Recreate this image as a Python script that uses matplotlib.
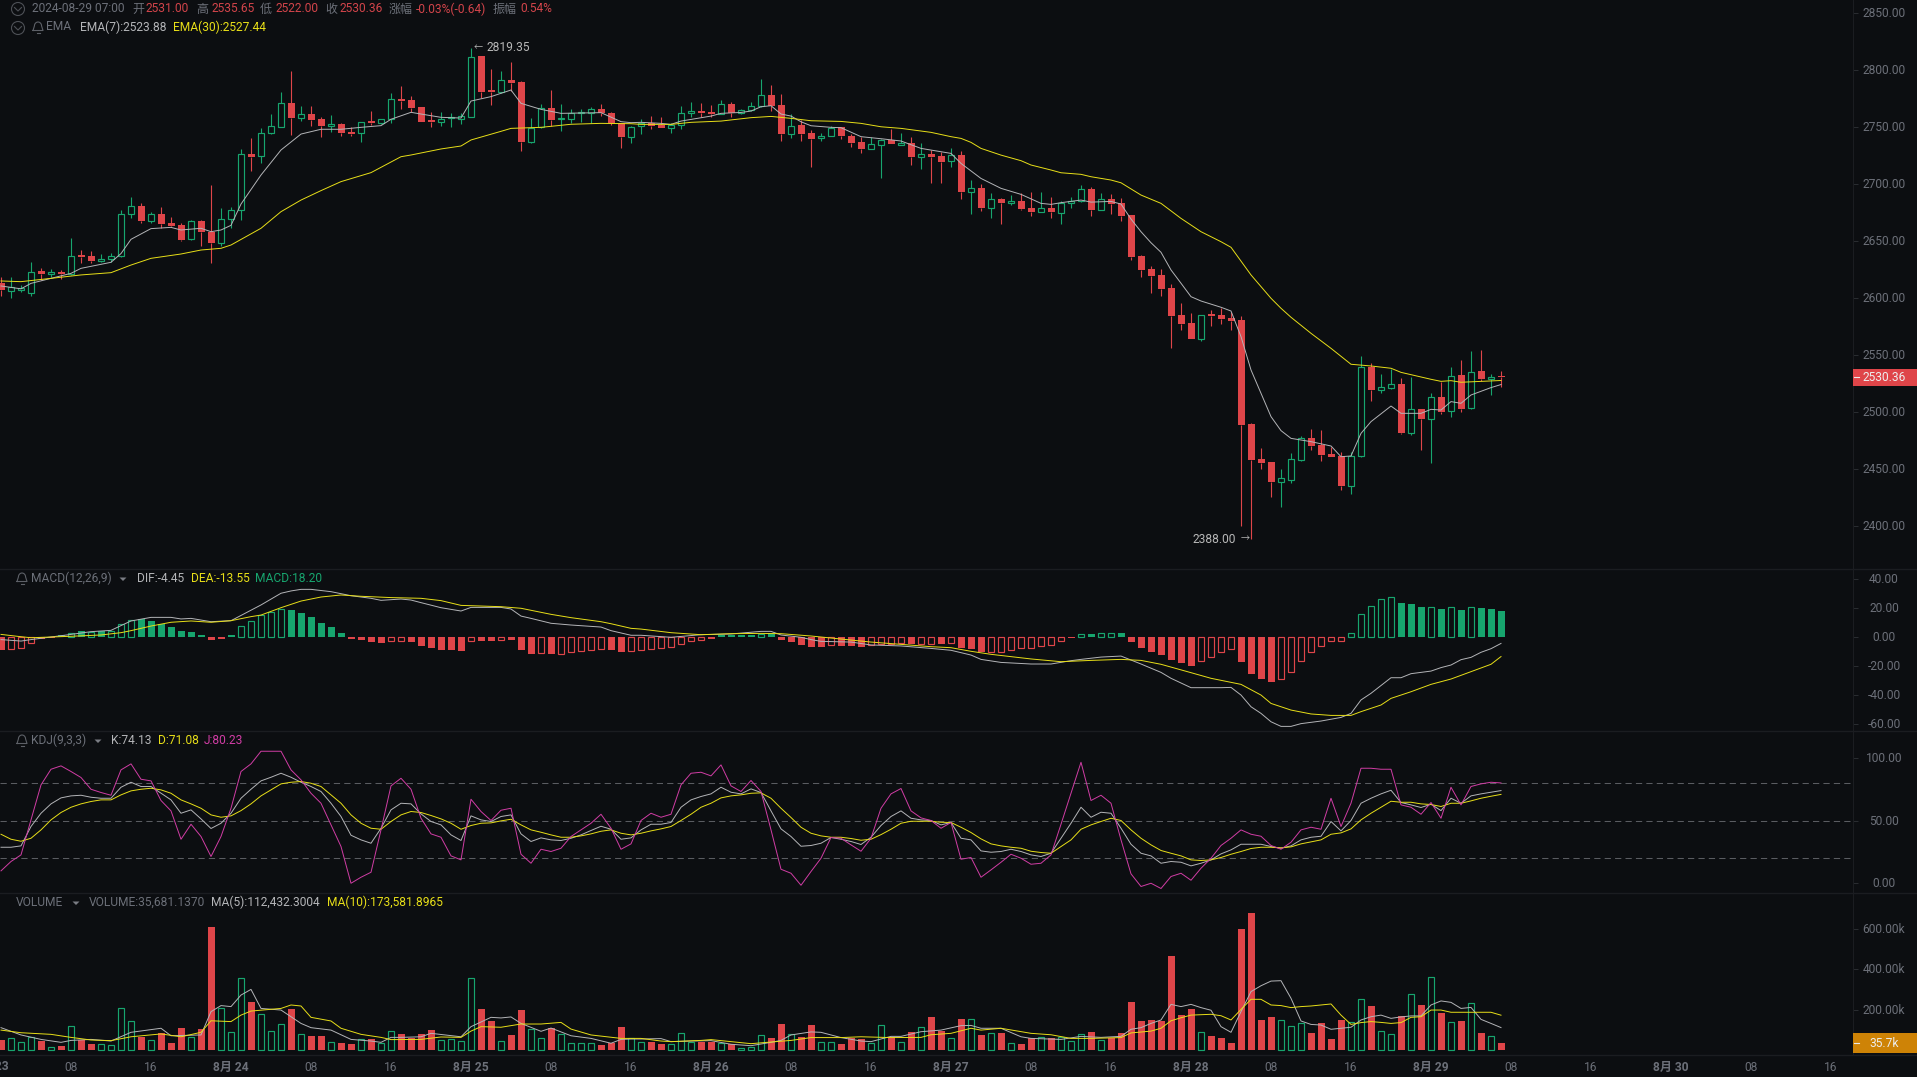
import numpy as np
import matplotlib
matplotlib.use('Agg')
import matplotlib.pyplot as plt
from matplotlib.patches import Circle, Polygon, Rectangle
from matplotlib.transforms import ScaledTranslation, blended_transform_factory

plt.rcParams['font.family'] = ['Roboto', 'Noto Sans CJK SC', 'DejaVu Sans']

# hourly candles, 08-23 01:00 to 08-29 07:00
opens = [2613,2606,2607,2604,2623.6,2621,2622.8,2621,2637.4,2636.8,2632.8,2634.2,2637.1,2673.5,2680.8,2667.9,2673.8,2665.6,2664.1,2651.5,2667.6,2658.2,2648,2669.1,2677,2726.2,2724.4,2744.6,2750.5,2771,2758.4,2761.6,2757.2,2751.1,2752.6,2745.8,2744.6,2755.2,2754,2757,2774.8,2773.9,2767.5,2756.4,2754.9,2757.8,2757.5,2759.3,2812.6,2782.4,2781.3,2791.5,2789.7,2737.3,2749.9,2766.9,2756.9,2757.2,2762.5,2762.8,2766,2762.8,2753.4,2741.7,
         2751,2754,2751.9,2749.6,2751.6,2762.2,2764.2,2763.3,2761.9,2770,2762.8,2764.8,2768.3,2778.3,2769.5,2744.3,2751.9,2744.9,2740.2,2742.5,2749.9,2742.2,2737,2731.1,2734.6,2738.4,2734.3,2735.8,2724.1,2726.1,2724.7,2720,2725.3,2693.3,2696.6,2679.3,2686.9,2683.7,2684.8,2679,2675.8,2679,2674.9,2683.4,2684.8,2695.7,2677.5,2686.9,2683.4,2672.8,2636.8,2625.4,2620.1,
         2608.5,2585,2578,2564.2,2585.9,2585,2582.4,2580.6,2489.2,2458.5,2455.9,2438.6,2440.3,2457.9,2476.9,2470.8,2462.9,2461.1,2435.1,2461.4,2539.3,2519.4,2521.2,2524.4,2481.6,2502.4,2493.9,2513,2500.4,2532.3,2503,2535.8,2529.1,2531]
highs = [2618,2618.7,2611,2631.3,2626,2625,2624.5,2653,2642,2641,2638.3,2639.8,2677.3,2689,2683.7,2675.8,2680.2,2671.4,2666.1,2668.5,2668.5,2699,2678.7,2679.6,2730.9,2740.2,2749.6,2761.9,2781.3,2799.4,2768.7,2768.7,2758.7,2760.5,2753.4,2749.9,2754.9,2764.3,2757.5,2779.8,2786.2,2777.4,2768,2763.1,2763.1,2762.8,2762.8,2819.35,2813,2800.9,2799.4,2807,2790.6,2757.8,2770.1,2782.7,2770.1,2765.7,2766.3,2767.5,2770.1,2763.7,2753.4,2751.1,
         2756.9,2760.1,2758.6,2753.4,2768.6,2772.1,2771,2769.8,2773.9,2771.8,2766,2772.4,2792,2787,2779.1,2761.3,2756.3,2747.5,2744.6,2751.3,2750.4,2743.7,2741.7,2741.7,2739.3,2748.1,2745.2,2741,2736.4,2730,2728.5,2731.4,2729.4,2703.6,2699.8,2691.9,2687.8,2690.4,2691.9,2693,2693,2688.9,2685.1,2688.4,2699.2,2697.1,2691.9,2691,2687.8,2672.8,2637.7,2628,2625.1,
         2612.3,2595.3,2586.5,2585,2589.4,2590.9,2587.9,2584.1,2490.4,2467.9,2456.1,2449.7,2463.5,2478.7,2484.6,2484,2469.3,2464.3,2464.3,2549.3,2543.2,2533.2,2537.6,2529.4,2530.3,2502.4,2516.8,2526.4,2539,2545.5,2553.4,2554.3,2533.5,2535.65]
lows = [2602,2600,2605,2602,2615.8,2618,2617,2620,2631,2630.4,2631.6,2631.9,2636.3,2670,2666,2666,2661.8,2662.6,2650.3,2650.9,2645.9,2631,2645.6,2661.8,2668.5,2711.5,2718.9,2744,2750.2,2743.2,2755.8,2751.1,2741.7,2746.1,2742.6,2742.6,2737.3,2752,2752.8,2754,2766,2763.7,2754.3,2750.5,2751.1,2750.5,2752.8,2759.3,2775.4,2769.5,2780.4,2782.1,2729.4,2735.9,2749,2751.4,2747,2754,2754.3,2754,2760.2,2752,2732,2736.4,
        2744,2748.4,2749.3,2745.2,2748.4,2758.6,2758.6,2758.6,2761.6,2759.2,2761.6,2764.2,2768,2764.2,2737.9,2740.8,2737.9,2715.3,2737.9,2742,2739.3,2732.3,2727.6,2730.8,2705.6,2735.2,2734,2716.8,2713.5,2701.2,2700.7,2714.7,2686.9,2673.7,2676.6,2670.2,2664.9,2681.6,2677.2,2672.2,2675.5,2669.9,2664.9,2679.3,2684.5,2671.9,2677.2,2673.7,2667.6,2633.3,2618,2604.6,2601.9,
        2556.3,2572.1,2563.6,2561.9,2575.4,2577.1,2571.8,2400,2388,2449.7,2425.4,2416.6,2437.7,2457,2466.4,2457,2460.3,2431,2427.7,2460.5,2509.5,2516.5,2519.7,2480.5,2479.9,2466.4,2455.3,2498,2495.7,2500.1,2502.7,2526.7,2514.7,2522]
closes = [2607,2610,2609,2623,2621.3,2622.8,2621,2637,2636,2632.5,2634.5,2637.1,2673.5,2680.8,2667.6,2673.5,2665,2663.2,2650.9,2667.6,2658.2,2648,2669,2677,2726.2,2723.8,2744.6,2750.8,2771,2758.4,2761.3,2756.4,2751.1,2752.6,2745.2,2744,2754.3,2753.4,2757,2774.5,2773.3,2767.2,2754.9,2754.6,2757.5,2758.7,2759.6,2812,2781,2781,2791.2,2788.9,2737.3,2749,2766.6,2756.4,2757.8,2762.8,2763.7,2765.7,2762.2,2753.4,2741.7,2750.5,
          2753.4,2751.3,2749.3,2751.6,2762.2,2763.9,2762.8,2761.9,2770,2762.2,2764.8,2768.3,2778,2768.6,2744,2751.3,2744,2739.6,2742.5,2749.6,2742.2,2736.1,2730.8,2734.9,2738.4,2735.5,2736.1,2724.1,2726.1,2724.1,2719.7,2725.3,2693.3,2696.3,2679.3,2686.6,2683.4,2685.1,2678.1,2675.8,2678.7,2675.8,2683.7,2684.8,2695.4,2677.2,2686.6,2682.8,2672.2,2635.9,2624.5,2619.2,2607.8,
          2584.1,2577.1,2563.6,2584.7,2584.1,2581.5,2579.8,2488.4,2457.6,2455,2438.3,2441.5,2458.2,2476.6,2469.9,2462,2460.3,2434.8,2461.4,2539.3,2519.1,2521.5,2524.1,2481,2502.1,2493.6,2512.7,2500.1,2531.7,2502.4,2535.2,2529.1,2530.5,2530.36]

ema7_idx = [0,2,3,5,7,8,11,12,13,15,17,18,20,21,22,23,24,26,28,30,32,34,36,38,39,41,42,44,46,47,49,51,52,54,56,60,62,63,64,66,67,68,71,72,74,75,76,77,78,79,80,81,83,84,86,88,90,92,95,96,98,100,102,104,105,106,108,109,111,112,113,114,115,116,117,118,119,120,122,123,124,125,127,128,129,131,133,134,135,136,137,139,140,142,143,144,145,146,147,149,150]
ema7 = [2610.5,2608,2612.8,2617.2,2621.6,2626,2631.3,2639,2651.5,2660.9,2662,2659.7,2661.2,2658.2,2659.7,2663.8,2682.5,2708,2730,2744,2748.2,2748.2,2749.9,2751.4,2757,2763.1,2761.6,2758.7,2758.1,2773,2776.9,2782.7,2771,2765.7,2762.2,2762.8,2754.9,2754,2754.3,2753.4,2752.5,2755.4,2759.8,2762.2,2763,2764.2,2768,2768.9,2761.6,2759.8,2754.8,2751.3,2749.9,2749.6,2741.7,2739.9,2737.9,2731.4,2727,2718.2,2705,2696.3,2691,2683.1,2682.2,2683.7,2686,2684.2,2684.8,2682.5,2669.3,2658.2,2648.5,2640.1,2624.6,2612.9,2601.1,2597.3,2591.8,2588.5,2566,2536.7,2495.7,2483.4,2476.6,2473.7,2469.9,2460.5,2461.1,2481,2491.3,2505,2498.6,2498.6,2502.1,2501.5,2508.9,2507.4,2514.7,2521.2,2523.88]
ema30_idx = [0,2,5,8,11,13,15,18,20,22,23,26,28,30,32,34,37,40,41,44,46,47,50,51,54,57,60,63,64,67,69,72,75,77,79,81,84,86,88,90,93,95,96,97,98,100,102,103,105,106,108,109,111,112,114,116,118,120,122,123,125,127,128,129,131,133,135,137,139,140,143,144,145,146,150]
ema30 = [2614.9,2614.3,2617.2,2620.2,2622.2,2628.9,2634.8,2638.6,2642.1,2643.6,2646.5,2661.2,2675.8,2686,2694.3,2702.2,2710.1,2724.1,2725.6,2730.9,2733.5,2738.8,2746.4,2749,2749.9,2752.6,2753.4,2753.1,2752.5,2752.5,2754.3,2755.4,2758.4,2759.5,2757.8,2755.7,2755.1,2753.4,2750.4,2749,2745.5,2741.7,2740.2,2736.7,2731.4,2725.5,2720.6,2716.8,2712.4,2710,2708.6,2706.5,2703.6,2701.2,2690.4,2683.1,2669.9,2658.2,2649.4,2644.5,2620.2,2599.7,2590.9,2583,2568.9,2555.7,2541.7,2540.2,2538.2,2534.6,2528.5,2526.7,2527.3,2525.9,2527.44]
price_ticks = [2400,2450,2500,2550,2600,2650,2700,2750,2800,2850]

macd_hist = [-9,-8.3,-7.8,-3.9,-1.4,-0.4,1.1,2.5,3.9,3.7,4.1,4.4,8.7,11.5,12.2,11,9,6.9,4.1,3.4,1.4,-1.8,-1.1,1.4,7.4,11,14.9,17.5,19.3,18.6,16.6,13.8,9.7,6.9,2.8,-1.1,-1.8,-3.4,-4.1,-2.5,-2.5,-3.4,-6.2,-7.4,-9,-9,-9.7,-2.5,-2.8,-2.8,-1.8,-1.8,-9,-11.7,-10.8,-11.7,-11.5,-10.6,-9.4,-9,-8.3,-9.2,-10.3,-9.7,
             -9,-8,-7.4,-6.7,-4.6,-2.5,-1.8,-1.4,1.6,1.6,1.6,1.6,1.8,2.1,-2.1,-3.4,-5.5,-6.9,-6.9,-5.3,-6.2,-6.2,-6.9,-5.5,-5.1,-4.8,-4.1,-5.1,-4.6,-4.6,-4.8,-3.9,-7.8,-8.3,-10.6,-10.1,-10.1,-8.7,-7.8,-7.4,-6,-5.3,-2.5,-0.7,2.3,1.8,3,3,2.5,-3.4,-7.6,-10.3,-12.4,-15.9,-17.9,-20,-16.3,-13.6,-10.1,-8,-17.2,-25.5,-29,-31,
             -29.4,-23.9,-16.3,-10.1,-6,-2.5,-2.5,2.5,15.6,21.8,26,28,23.4,22.8,20.7,20.5,19.3,21.1,18.6,20.5,20,19.3,18.2]
macd_hollow = [1,2,3,7,9,11,12,13,24,25,26,27,28,39,40,47,50,54,56,57,58,59,60,63,64,65,66,67,68,69,70,76,83,87,88,89,90,92,93,95,99,100,101,102,103,104,105,106,108,110,111,120,121,122,123,128,129,130,131,132,133,134,135,136,137,138,139,143,145,147]
dif_idx = [0,2,3,5,7,9,11,12,13,15,17,18,19,21,23,26,28,29,30,31,33,35,37,38,40,41,42,44,46,47,50,51,52,53,55,57,60,61,63,64,67,70,73,76,77,78,80,81,82,85,87,90,93,95,97,98,100,103,105,107,108,110,112,114,116,117,119,122,123,124,125,126,127,128,129,130,132,134,135,136,137,139,140,141,143,144,145,146,147,148,149,150]
dif = [-1.8,-2.8,-1.8,0,1.8,3.7,4.6,7.9,11.1,13.6,13.6,12.5,12.9,10.6,11.3,22.2,30.3,31.9,33,33,31.4,28.6,26.8,25.4,26.3,25.6,23.8,20.3,18,20.5,20.5,19.4,14.5,12.9,9.5,8.3,6.9,4.4,1.2,1.2,-0.2,1.6,2.1,3.9,3.9,1.4,-0.2,-1.8,-3,-3.5,-5.5,-6.2,-7.9,-9.2,-12.5,-15.5,-17.6,-18.7,-18.7,-16.4,-15.5,-13.9,-13.2,-18.7,-24.5,-28.6,-35.1,-35.1,-34.9,-40.2,-48.3,-52.9,-58.7,-61.9,-61.9,-60,-58.2,-55.7,-52.9,-43.6,-39,-28.2,-28.2,-25.4,-23.6,-21.2,-19.4,-15.7,-14.1,-10.6,-8.1,-4.45]
dea_idx = [0,2,3,5,7,10,12,13,15,17,19,21,23,25,26,28,30,32,34,36,39,42,44,46,50,52,55,57,60,61,63,64,67,70,73,76,78,81,84,87,90,93,95,97,99,101,103,106,109,112,114,116,119,121,124,126,127,128,129,131,133,135,136,138,139,141,143,145,147,149,150]
dea = [1.8,0.2,-0.5,0,0.5,1.4,3,4.4,7.6,10.2,11.1,10.2,11.3,14.1,15.2,20.3,24.9,27.7,29.1,28.2,27.3,26.8,25.2,21.9,21,19.9,15.7,13.4,10.6,9.2,6,5.5,3,1.6,2.3,2.5,2.3,0.7,-1.4,-3.5,-5.1,-6.7,-7.4,-9.9,-12,-13.6,-15.2,-17.1,-16.2,-15.5,-16.2,-18.9,-24.7,-28.6,-32.8,-40.2,-46,-48.3,-50.6,-53.3,-54.3,-54.3,-51.7,-47.1,-42.5,-37.9,-32.8,-29.1,-24,-18.9,-13.55]
macd_ticks = [-60,-40,-20,0,20,40]

kdj_k = [28.8,28.8,29.9,45.4,56,63.5,68.3,69.9,70.4,68.8,68,68,76.8,80.8,77.4,77.4,72,66.7,56,58.7,51.5,43.8,48,56,68,75.2,81.9,84.8,88,84.8,80.8,77.4,73.4,64,53.4,38.4,34.7,32,44,58.7,64,63.5,55.5,49.4,46.7,38.7,34.2,53.9,50.7,49.4,53.4,54.7,39.5,33.4,36.3,34.7,34.2,36,38.7,42.2,45.6,43.2,35.2,36.3,
         42.7,47.2,47.2,48.6,60.8,66.7,69.4,71.5,76.8,72.8,71.5,75.5,72.6,57.9,43.5,37.4,29.6,30.2,32,36.6,35.2,33.4,31,36.8,46.2,53.4,57.9,52,50.7,50.2,46.7,48.6,36,34.7,25.9,24.8,25.4,27.2,25.4,22.7,21.4,24,36,48,60.8,52.8,56.8,56,44,31.2,24,21.9,16,17.4,16.8,13.9,
         16,18.7,23.5,26.7,31.2,31.2,31.2,29.4,28,29.9,34.7,36.8,37.6,49.4,41.9,50.2,64,68,71.5,74.4,64.6,62.7,60.6,63.2,58.1,68,64,69.9,71.5,72.8,74.13]
kdj_d = [39.2,35.2,33.6,36,42.7,50.7,56.6,60.8,63.5,65.4,66.7,66.7,70.7,73.9,75.2,76,74.7,72,66.7,63.5,60,54.7,52.8,53.9,58.1,63.5,69.9,74.7,79.5,80.8,81.4,80,77.4,70.7,64,54.7,48,44,43.2,49.4,54.7,57.4,56.6,54.2,51.5,48,43.2,46.2,48,48.3,49.9,51.2,46.7,42.7,40.8,38.7,36.8,36.8,37.9,39.5,41.6,42.7,40,38.7,
         40,41.9,43.5,45.4,50.2,55.2,60.8,64,68.3,69.9,70.7,72,72.3,68,60,52.6,44.8,40,37.9,36.8,36.8,35.8,34.4,35.2,38.9,43.2,48,49.6,49.6,49.6,48.8,48.6,44.8,40.6,35.5,31.5,29.9,28.8,28,25.6,24.6,24,29.4,34.7,43.2,46.7,49.4,52,50.2,42.7,36,30.7,26.2,24,21.9,18.7,
         18.2,18.7,20.6,23.2,25.4,27.8,28.8,28.8,28.3,29.1,31.5,33.1,34.7,39.2,40.3,43.5,50.7,56,60.8,65.6,64.8,64.8,63.5,63,61.4,64,64,65.9,68,69.6,71.08]
kdj_j = [9.9,17.4,22.7,50.7,78.7,91.2,93.9,89.4,84.6,75.2,72.6,70.4,90.7,95.5,83.2,81.9,66.2,57.9,35.2,47.2,37.4,21.4,37.4,60,89.4,95.5,105.6,105.6,105.6,90.7,82.7,72,64,46.7,29.4,0,4.8,8.8,42.7,77.9,84,75.2,52,39.5,36.8,21.9,18.7,67.2,57.4,50.2,58.4,60,23.2,16,27.2,25.4,28,37.4,42.7,48,55.2,44,27.2,31.5,
         50.2,56,52.8,55.2,78.7,88,88.8,85.9,94.7,77.9,73.4,82.2,73.4,42.7,11.2,8,-1.6,9.4,20,36.6,36,30.7,25.6,36,60,71.5,75.8,57.9,52.3,50.2,44,48.6,19.2,20.6,4.8,10.7,16.8,23.2,20,15.2,16,22.7,47.2,72,96.8,66.2,70.4,64,34.7,7.5,-2.6,0,-4.2,5.4,8,2.4,
         12,20,30.2,36,42.7,39.2,37.6,30.2,27.2,32.8,42.7,44.8,43.2,68,45.4,64,92,92,91.2,91.2,62.7,60.8,55.2,64.6,52,76.8,62.7,77.4,79.5,80.8,80.23]
kdj_ticks = [0,50,100]
kdj_levels = [20,50,80]

# volume in thousands
volume = [51,59,39.5,67,46,18,21,118,51,31,30,25,207,143,67,49,86,36,110,67,105,607,207,89,355,239,178,94,128,204,79,71,71,39.5,36,31,54,56,35,94,81,59,81,100,49,54,44,355,204,145,44,76,199,105,59,109,79,35,35,35,26,35,115,59,
          39.5,43,31,30,84,43,43,41,38,31,10,18,74,61,130,79,66,125,39.5,39.5,31,59,56,38,123,66,39.5,91,114,165,97,59,155,153,76,84,87,35,31,63,64,61,64,48,79,91,53,61,86,239,145,150,145,466,174,204,89,71,61,36,599,678,150,165,
          148,118,133,86,135,56,150,142,252,219,94,79,168,277,224,360,184,138,145,232,86,69,35.7]
ma5_idx = [0,2,4,6,7,9,11,13,16,17,20,21,22,23,24,25,26,28,30,31,33,35,37,38,39,40,42,43,46,47,49,50,51,52,54,55,57,59,61,62,63,64,66,67,69,71,73,75,77,78,79,81,82,84,86,87,89,90,92,94,96,97,98,100,102,103,106,108,110,112,113,114,115,116,117,118,119,120,121,122,123,124,125,126,127,128,129,130,131,132,133,134,135,136,137,138,139,140,141,142,143,144,145,146,147,148,149,150]
ma5 = [112,76,54,39.5,49,54,46,89,109,72,76,191,221,216,273,301,207,199,133,112,100,54,46,39.5,64,64,67,84,67,117,163,160,165,133,94,110,72,59,35,54,56,56,58,43,46,48,30,23,39.5,49,76,91,89,63,46,43,69,69,92,100,122,123,109,109,67,59,54,69,64,69,104,112,133,150,227,216,227,211,198,117,89,191,290,319,342,344,257,145,128,125,104,109,114,150,166,174,158,165,170,170,224,244,237,207,212,153,133,112.43]
ma10_idx = [0,2,5,7,9,11,13,16,18,20,21,23,24,25,28,29,30,31,33,34,36,38,39,42,44,46,47,48,50,52,54,56,57,59,62,63,64,66,67,70,71,73,75,77,79,81,84,86,89,92,93,95,97,98,100,103,105,107,109,112,113,115,116,117,118,119,121,122,123,124,125,126,127,128,129,130,131,132,133,134,135,136,137,138,139,140,141,142,143,144,145,146,147,148,149,150]
ma10 = [100,87,79,64,51,48,67,81,67,89,146,142,174,194,207,224,219,163,145,109,79,64,53,54,66,64,95,117,114,130,130,138,105,76,59,59,59,46,43,49,53,43,33,41,49,63,63,67,63,64,77,84,109,100,109,84,77,59,59,63,86,95,109,146,161,174,178,171,150,202,252,252,224,221,211,216,219,224,229,174,128,137,142,138,133,137,163,166,199,199,188,188,188,188,188,173.58]
volume_ticks = [200,400,600]

time_idx = [7,15,23,31,39,47,55,63,71,79,87,95,103,111,119,127,135,143,151,159,167,175,183]
time_labels = ['08','16','8月 24','08','16','8月 25','08','16','8月 26','08','16','8月 27','08','16','8月 28','08','16','8月 29','08','16','8月 30','08','16']

W, H = 1917, 1077
AXIS_X = 1853
BG = '#0C0E11'
GREEN = '#17A56E'
RED = '#DF4549'
WHITE = '#B4B5B8'
YELLOW = '#E8DF18'
MAGENTA = '#D13DA5'
GREY = '#6C7079'
LINE = '#1B1D21'
FS = 8.64
LW = 0.7

opens = np.array(opens)
closes = np.array(closes)
highs = np.array(highs)
lows = np.array(lows)
volume = np.array(volume)
macd_hist = np.array(macd_hist)
idx = np.arange(len(closes))
up = closes >= opens

fig = plt.figure(figsize=(W / 100, H / 100), dpi=100, facecolor=BG)
label_shift = ScaledTranslation(0, 1 / 100, fig.dpi_scale_trans)


def make_panel(top, bottom, ymin, ymax, ticks, labels):
    ax = fig.add_axes([0, 1 - bottom / H, AXIS_X / W, (bottom - top) / H], facecolor=BG)
    ax.set_xlim(-0.1, (AXIS_X - 1) / 10)
    ax.set_ylim(ymin, ymax)
    for side in ['top', 'left', 'bottom']:
        ax.spines[side].set_visible(False)
    ax.spines['right'].set_color(LINE)
    ax.set_xticks([])
    ax.yaxis.tick_right()
    ax.set_yticks(ticks)
    ax.set_yticklabels(labels, ha='center')
    ax.tick_params(axis='y', length=3.6, width=0.7, color='#2A2D32', labelcolor=GREY,
                   labelsize=FS, pad=18.7)
    for lab in ax.get_yticklabels():
        lab.set_transform(lab.get_transform() + label_shift)
    return ax


def draw_bars(ax, x, bottom, height, color, hollow):
    for flag in [False, True]:
        m = hollow == flag
        if flag:
            ax.bar(x[m], height[m], 0.62, bottom[m], facecolor=BG, edgecolor=color, linewidth=0.85, zorder=2)
        else:
            ax.bar(x[m], height[m], 0.7, bottom[m], color=color, linewidth=0, zorder=2)


# candles
ax_main = make_panel(0, 569, 2361.8, 2861.8, price_ticks, ['%.2f' % p for p in price_ticks])
body_top = np.maximum(opens, closes)
body_bot = np.minimum(opens, closes)
for mask, col in [(up, GREEN), (~up, RED)]:
    ax_main.vlines(idx[mask], lows[mask], body_bot[mask], color=col, linewidth=0.8, zorder=1)
    ax_main.vlines(idx[mask], body_top[mask], highs[mask], color=col, linewidth=0.8, zorder=1)
    draw_bars(ax_main, idx[mask], body_bot[mask], body_top[mask] - body_bot[mask], col, up[mask])
ax_main.plot(ema7_idx, ema7, color=WHITE, lw=LW, zorder=3)
ax_main.plot(ema30_idx, ema30, color=YELLOW, lw=LW, zorder=3)
ax_main.text(47.3, 2820.2, '←', color='#B8B8B8', fontsize=6.5, va='center', ha='left')
ax_main.text(48.5, 2820.2, '2819.35', color='#B8B8B8', fontsize=FS, va='center', ha='left')
ax_main.text(123.5, 2388, '2388.00', color='#B8B8B8', fontsize=FS, va='center', ha='right')
ax_main.text(124, 2388, '→', color='#B8B8B8', fontsize=6.5, va='center', ha='left')

# macd
ax_macd = make_panel(569, 731, -65.1, 47.1, macd_ticks, ['%.2f' % v for v in macd_ticks])
hollow = np.isin(idx, macd_hollow)
pos = macd_hist >= 0
draw_bars(ax_macd, idx[pos], np.zeros(pos.sum()), macd_hist[pos], GREEN, hollow[pos])
draw_bars(ax_macd, idx[~pos], np.zeros((~pos).sum()), macd_hist[~pos], RED, hollow[~pos])
ax_macd.plot(dif_idx, dif, color=WHITE, lw=LW, zorder=3)
ax_macd.plot(dea_idx, dea, color=YELLOW, lw=LW, zorder=3)

# kdj
ax_kdj = make_panel(731, 893, -7.8, 121.8, kdj_ticks, ['%.2f' % v for v in kdj_ticks])
for lev in kdj_levels:
    ax_kdj.axhline(lev, color='#5A5C61', lw=0.75, ls=(0, (6, 4)), zorder=1)
ax_kdj.plot(idx, kdj_k, color=WHITE, lw=LW, zorder=3)
ax_kdj.plot(idx, kdj_d, color=YELLOW, lw=LW, zorder=3)
ax_kdj.plot(idx, kdj_j, color=MAGENTA, lw=LW, zorder=3)

# volume
ax_vol = make_panel(893, 1055, -23, 777, volume_ticks, ['%.2fk' % v for v in volume_ticks])
draw_bars(ax_vol, idx[up], np.zeros(up.sum()), volume[up], GREEN, np.ones(up.sum(), dtype=bool))
draw_bars(ax_vol, idx[~up], np.zeros((~up).sum()), volume[~up], RED, np.zeros((~up).sum(), dtype=bool))
ax_vol.plot(ma5_idx, ma5, color=WHITE, lw=LW, zorder=3)
ax_vol.plot(ma10_idx, ma10, color=YELLOW, lw=LW, zorder=3)
ax_vol.set_xticks(time_idx)
ax_vol.set_xticklabels(time_labels)
ax_vol.tick_params(axis='x', length=0, labelcolor=GREY, labelsize=FS, pad=4)
for lab in ax_vol.get_xticklabels():
    if '月' in lab.get_text():
        lab.set_fontweight('bold')
# 8月 23 sits half outside the left edge
ax_vol.text(-1, -0.068, '8月 23', color=GREY, fontsize=FS, fontweight='bold', ha='center', va='center',
            clip_on=False, transform=ax_vol.get_xaxis_transform())

# last value tags on the axis
for ax, val, text, col, hgt in [(ax_main, closes[-1], '2530.36', RED, 15),
                                (ax_vol, volume[-1], '35.7k', '#CE8306', 98)]:
    trans = blended_transform_factory(ax.transAxes, ax.transData)
    ax.add_patch(Rectangle((1, val - hgt / 2), 64 / AXIS_X, hgt, facecolor=col, edgecolor='none',
                           transform=trans, clip_on=False, zorder=5))
    ax.plot([1.0005, 1.0035], [val, val], color='#E8E8E8', lw=0.8, transform=trans, clip_on=False, zorder=6)
    ax.text(1 + 31 / AXIS_X, val, text, color='#EDEDED', fontsize=FS, ha='center', va='center',
            transform=trans, clip_on=False, zorder=6)

# pixel overlay for legends, icons and panel separators
ov = fig.add_axes([0, 0, 1, 1], zorder=10)
ov.set_xlim(0, W)
ov.set_ylim(H, 0)
ov.axis('off')
for y in [569, 731, 893, 1055]:
    ov.plot([0, W], [y, y], color=LINE, lw=1)


def label(x, y, text, color=GREY):
    ov.text(x, y, text, color=color, fontsize=FS, ha='left', va='center')


def chevron_icon(x, y):
    ov.add_patch(Circle((x, y), 6.5, fill=False, edgecolor='#4D5056', lw=0.8))
    ov.plot([x - 3.5, x, x + 3.5], [y - 1.5, y + 2, y - 1.5], color='#4D5056', lw=0.8)


def bell_icon(x, y):
    t = np.linspace(np.pi, 0, 12)
    xs = list(x + 3.6 * np.cos(t))
    ys = list(y - 1 - 4 * np.sin(t))
    ov.plot([x - 5] + xs + [x + 5, x - 5], [y + 3.5] + ys + [y + 3.5, y + 3.5], color='#5D6067', lw=0.8)
    ov.plot([x - 1.5, x + 1.5], [y + 5.5, y + 5.5], color='#5D6067', lw=0.8)


def caret_icon(x, y):
    ov.add_patch(Polygon([[x - 3.5, y - 1.5], [x + 3.5, y - 1.5], [x, y + 2]], facecolor='#7A7D84', edgecolor='none'))


chevron_icon(18, 9)
chevron_icon(18, 28)
bell_icon(38, 27)
bell_icon(22, 578)
bell_icon(22, 740)
caret_icon(123, 579)
caret_icon(98, 741)
caret_icon(76, 903)

VAL_RED = '#D2444A'
label(32, 9, '2024-08-29 07:00')
label(132, 9, '开')
label(146, 9, '2531.00', VAL_RED)
label(196, 9, '高')
label(211, 9, '2535.65', VAL_RED)
label(260, 9, '低')
label(275.5, 9, '2522.00', VAL_RED)
label(325, 9, '收')
label(340, 9, '2530.36', VAL_RED)
label(389, 9, '涨幅')
label(416, 9, '-0.03%(-0.64)', VAL_RED)
label(493, 9, '振幅')
label(520, 9, '0.54%', VAL_RED)

label(46, 27, 'EMA')
label(80, 27, 'EMA(7):2523.88', WHITE)
label(173, 27, 'EMA(30):2527.44', YELLOW)

label(31, 578, 'MACD(12,26,9)')
label(137, 578, 'DIF:-4.45', WHITE)
label(191, 578, 'DEA:-13.55', YELLOW)
label(255, 578, 'MACD:18.20', GREEN)

label(31, 740, 'KDJ(9,3,3)')
label(111, 740, 'K:74.13', WHITE)
label(158, 740, 'D:71.08', YELLOW)
label(204, 740, 'J:80.23', MAGENTA)

label(16, 902, 'VOLUME')
label(89, 902, 'VOLUME:35,681.1370')
label(211, 902, 'MA(5):112,432.3004', WHITE)
label(326.5, 902, 'MA(10):173,581.8965', YELLOW)

fig.savefig('out.png', dpi=100, facecolor=BG)
